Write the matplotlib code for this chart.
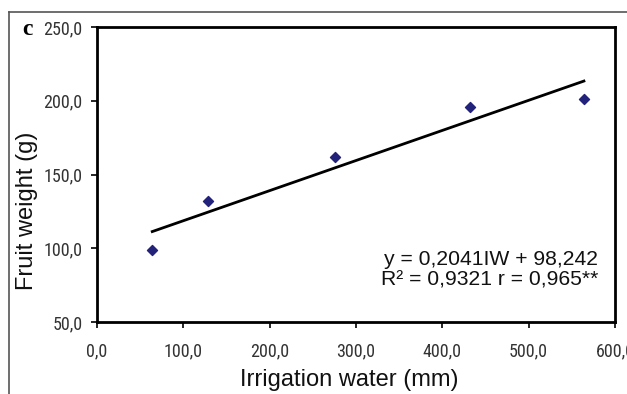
import matplotlib
matplotlib.use("Agg")
import matplotlib.pyplot as plt
from matplotlib.lines import Line2D
import numpy as np

irrigation = [64, 128, 276, 432, 564]
fruit_weight = [98.5, 132, 162, 196, 201.5]
slope, intercept = 0.2041, 98.242
xticks = [0, 100, 200, 300, 400, 500, 600]
yticks = [50, 100, 150, 200, 250]

fig = plt.figure(figsize=(6.27, 3.94), dpi=100)
W, H = 627, 394
ax = fig.add_axes([97/W, 1-322/H, (615-97)/W, (322-27)/H])

ax.scatter(irrigation, fruit_weight, marker='D', s=26, color='#22227a', zorder=3)
xs = np.array([min(irrigation), max(irrigation)])
ax.plot(xs, slope*xs + intercept, color='black', lw=2)

ax.set_xlim(0, 600)
ax.set_ylim(50, 250)
ax.set_xticks(xticks)
ax.set_yticks(yticks)
tickfont = dict(family=['Roboto Condensed', 'DejaVu Sans'], size=13, color='#333333')
ax.set_xticklabels([f"{v:.1f}".replace('.', ',') for v in xticks], **tickfont)
ax.set_yticklabels([f"{v:.1f}".replace('.', ',') for v in yticks], **tickfont)
ax.tick_params(direction='out', length=4.5, width=1.2)
ax.tick_params(axis='x', pad=10)
ax.tick_params(axis='y', pad=6)
for s in ax.spines.values():
    s.set_linewidth(2)

labfont = dict(family=['Liberation Sans', 'DejaVu Sans'], size=17, color='#111111')
ax.set_xlabel('Irrigation water (mm)', **labfont)
ax.set_ylabel('Fruit weight (g)', **labfont)
ax.xaxis.set_label_coords((349 - 97) / 518, (322 - 369) / 295)
ax.yaxis.set_label_coords((38 - 97) / 518, (322 - 211) / 295)

ax.text(0.967, (322 - 250) / 295, 'y = 0,2041IW + 98,242\nR² = 0,9321 r = 0,965**',
        transform=ax.transAxes, ha='right', va='top', linespacing=1.12,
        family=['Liberation Sans', 'DejaVu Sans'], size=15.2, color='#111111')

fig.text(27.5/W, 1-29.5/H, 'c', family=['Liberation Serif'], weight='bold', size=17,
         ha='center', va='center')

fig.add_artist(Line2D([9/W, 1], [1-12/H, 1-12/H], color='#555555', lw=1.2, transform=fig.transFigure))
fig.add_artist(Line2D([9/W, 9/W], [1-12/H, 0], color='#555555', lw=1.2, transform=fig.transFigure))

fig.savefig('out.png', dpi=100)
